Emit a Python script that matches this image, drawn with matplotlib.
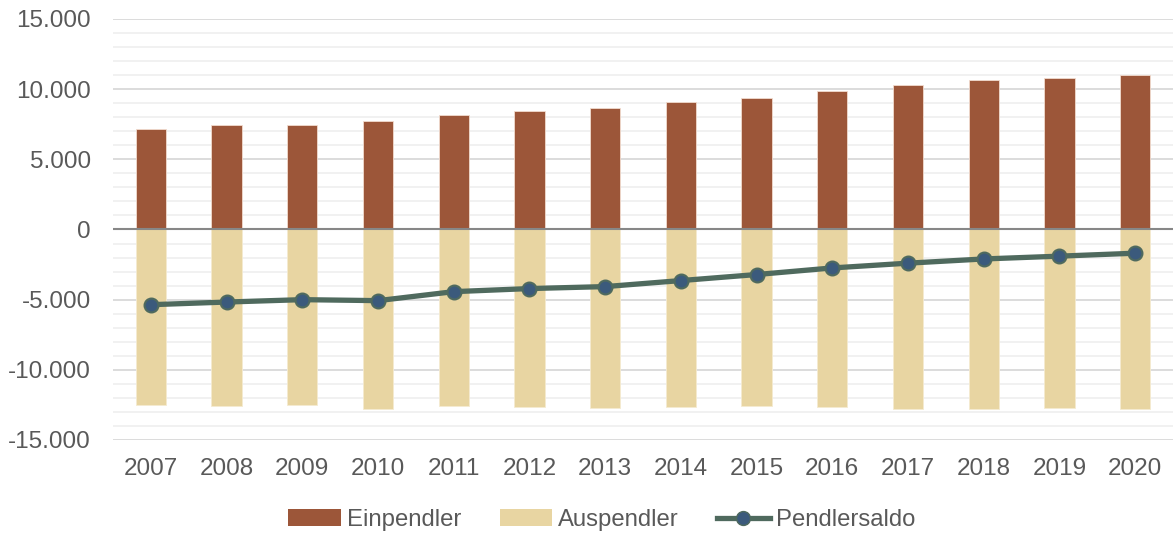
import numpy as np
import matplotlib.pyplot as plt
from matplotlib.ticker import FuncFormatter, MultipleLocator
from matplotlib.lines import Line2D
from matplotlib.patches import Patch

plt.rcParams['font.family'] = ['Liberation Sans', 'DejaVu Sans']

# Jahre und Pendlerzahlen.
years = ["2007", "2008", "2009", "2010", "2011", "2012", "2013",
         "2014", "2015", "2016", "2017", "2018", "2019", "2020"]
einpendler = [7150, 7430, 7460, 7700, 8140, 8430, 8640,
              9070, 9360, 9860, 10320, 10680, 10790, 11040]
auspendler = [-12500, -12570, -12480, -12760, -12570, -12640, -12710,
              -12640, -12570, -12640, -12760, -12810, -12740, -12760]
pendlersaldo = [-5360, -5170, -5000, -5070, -4430, -4210, -4070,
                -3640, -3210, -2740, -2400, -2100, -1900, -1690]

c_ein = "#9C5639"
c_aus = "#E8D5A2"
c_line = "#4F6A5E"
c_mark = "#3B5A7C"
c_text = "#595959"

fig = plt.figure(figsize=(11.73, 5.35), dpi=100)
ax = fig.add_axes([0.0963, 0.1776, 0.9037, 0.7869])

x = np.arange(len(years))
ax.bar(x, einpendler, width=0.4, color=c_ein, edgecolor="#F2DCCF", linewidth=0.6, zorder=2)
ax.bar(x, auspendler, width=0.4, color=c_aus, edgecolor="#F5EBD0", linewidth=0.6, zorder=2)
ax.axhline(0, color="#878787", linewidth=1.5, zorder=3)
ax.plot(x, pendlersaldo, color=c_line, linewidth=3.8, marker="o", markersize=10,
        markerfacecolor=c_mark, markeredgecolor=c_line, markeredgewidth=1.5, zorder=4)

ax.set_xlim(-0.5, len(years) - 0.5)
ax.set_ylim(-15000, 15000)
ax.yaxis.set_major_locator(MultipleLocator(5000))
ax.yaxis.set_minor_locator(MultipleLocator(1000))
ax.yaxis.set_major_formatter(FuncFormatter(lambda v, p: f"{int(v):,}".replace(",", ".")))
ax.grid(axis="y", which="major", color="#D9D9D9", linewidth=1.3, zorder=0)
ax.grid(axis="y", which="minor", color="#F0F0F0", linewidth=1.3, zorder=0)
ax.set_axisbelow(True)

ax.set_xticks(x)
ax.set_xticklabels(years)
ax.tick_params(axis="both", which="both", length=0, labelsize=17.5, colors=c_text)
ax.tick_params(axis="x", pad=13)
ax.tick_params(axis="y", pad=16)
for s in ax.spines.values():
    s.set_visible(False)

handles = [
    Patch(facecolor=c_ein, label="Einpendler"),
    Patch(facecolor=c_aus, label="Auspendler"),
    Line2D([0], [0], color=c_line, linewidth=3.8, marker="o", markersize=10,
           markerfacecolor=c_mark, markeredgecolor=c_line, label="Pendlersaldo"),
]
leg = fig.legend(handles=handles, loc="center", bbox_to_anchor=(0.513, 0.028), ncol=3,
                 frameon=False, fontsize=17.2, handlelength=2.2, handleheight=0.7,
                 handletextpad=0.25, columnspacing=1.6)
for t in leg.get_texts():
    t.set_color(c_text)

fig.savefig("out.png", dpi=100)
